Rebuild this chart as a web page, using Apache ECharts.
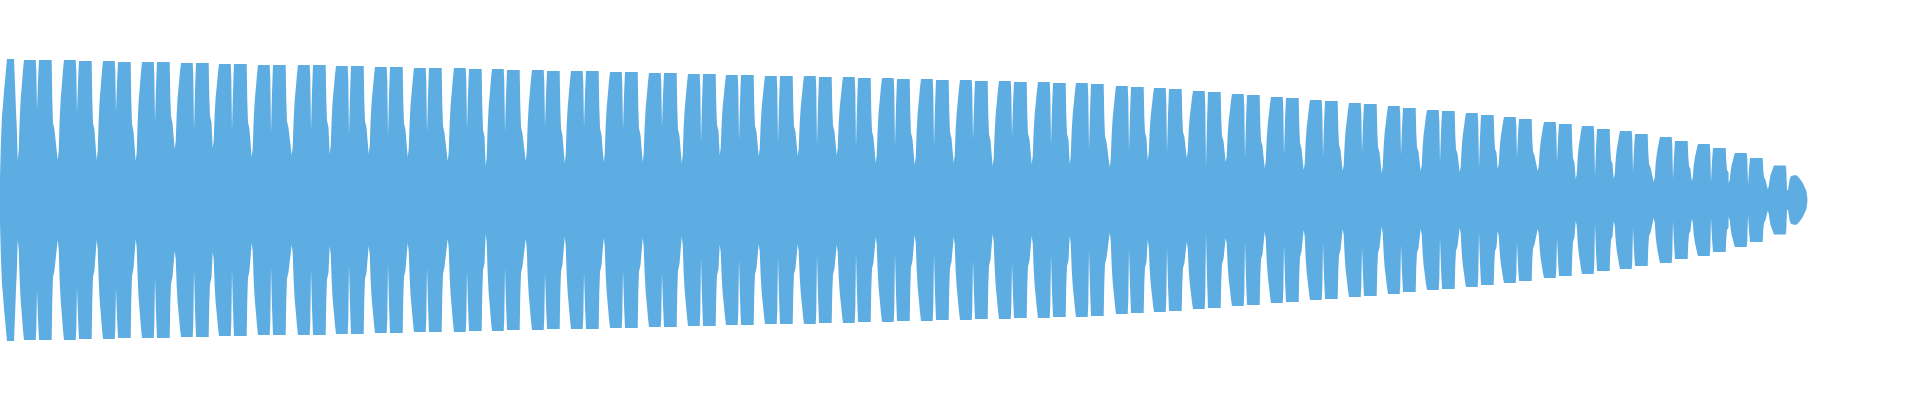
<!DOCTYPE html>
<html><head><meta charset="utf-8">
<script src="https://cdn.jsdelivr.net/npm/echarts@6/dist/echarts.min.js"></script>
<style>html,body{margin:0;padding:0;background:#fff}#chart{width:1920px;height:400px}</style>
</head><body><div id="chart"></div>
<script>
// Waveform envelope (amplitude on a -100..100 scale; x = sample index)
const pairStart = [23,63,102,141,180,218,257,297,335,374,413,453,491,531,570,609,648,687,725,764,803,842,881,920,959,998,1037,1075,1115,1153,1192,1231,1270,1309,1348,1387,1426,1465,1503,1543,1581,1619,1659,1697,1734,1773];
const topA = [100,100,99.3,98.6,97.9,97.1,96.4,96.4,95.7,95,94.3,94.3,93.6,92.9,92.1,91.4,90.7,90,89.3,88.6,88.6,87.9,87.1,86.4,85.7,85,84.3,83.6,81.4,80,77.9,75.7,73.6,71.4,69.3,67.1,64.3,62.1,59.3,55.7,52.9,49.3,45,40,33.6,24.6];
const topB = [100,99.3,98.6,98.6,97.9,97.1,96.4,96.4,95.7,95,94.3,93.6,92.9,92.1,92.1,91.4,90.7,90,89.3,88.6,87.9,87.1,86.4,85.7,85,84.3,83.6,82.9,80.7,79.3,77.1,75,72.9,70.7,68.6,65.7,63.6,60.7,57.9,54.3,50.7,47.1,42.1,37.1,30,17.9];
const notchLevel = [64.3,62.1,62.9,55,49.3,50,47.9,49.3,45.7,45.7,47.9,50.7,48.6,52.1,52.1,50,52.1,41.4,42.1,40.7,39.3,37.9,38.6,38.6,42.9,45,39.3,35.7,34.3,34.3,23.6,30,32.1,30.7,33.6,32.1,27.1,22.9,30,27.1,17.1,20,15,12.9,10.7,6.4];
const gapLevel = [28.6,28.6,27.9,36.4,37.1,30.7,32.1,32.9,32.9,30.7,27.9,24.3,27.9,26.4,27.1,27.1,26.4,32.1,31.4,31.4,32.1,26.4,25,26.4,24.3,25.7,25.7,23.6,28.6,30,27.1,22.9,21.4,20.7,19.3,20.7,20,22.1,20.7,15,15.2,13.1,13.6,12.1,7.9];
const headX = [0,1,2,3,4,5,6,7,14,15,16,17];
const headV = [16,44,60,68,78,85,93,100.7,100.7,83.6,64,48];
const headGap = 28.6;
const tailX = [1788.3,1789.5,1791,1793,1796,1797.5,1799,1800.5,1802,1803.5,1805,1806.5,1807.5,1807.5];
const tailV = [8,14.3,17.1,17.9,17.9,16.9,15.9,14.6,13,11,8.6,6.4,5.4,0];

// lobe outline template (shape only: offsets from a pair's start, fraction between gap and top)
const RISE = [[-5.3,0],[-4.3,0.09],[-3.3,0.41],[-2.3,0.61],[-1,0.77],[0,0.9],[1,1]];
const FALL = [[28.7,1],[29.3,0.6],[30,0.375],[31.5,0.3]];

const pts = [];
headX.forEach((x,i)=>pts.push([x, headV[i]]));
pairStart.forEach((S,k)=>{
  const d = k === 0 ? headGap : gapLevel[k-1];
  const tA = topA[k], tB = topB[k], n = notchLevel[k];
  RISE.forEach(([o,f])=>pts.push([S+o, d + f*(tA-d)]));
  pts.push([S+12.7, tA]);
  pts.push([S+13.3, n + 0.8*(tA-n)]);
  pts.push([S+14, n]);
  pts.push([S+14.7, n]);
  if (k === pairStart.length-1) {
    tailX.forEach((x,i)=>pts.push([x, tailV[i]]));
  } else {
    const dn = gapLevel[k];
    pts.push([S+15, n + 0.6*(tB-n)]);
    pts.push([S+16, tB]);
    FALL.forEach(([o,f])=>pts.push([S+o, dn + f*(tB-dn)]));
  }
});
const upper = pts;
const lower = pts.map(p=>[p[0], -p[1]]);

const color = '#5dade2';
const chart = echarts.init(document.getElementById('chart'));
chart.setOption({
  animation: false,
  backgroundColor: '#ffffff',
  grid: {left: 0, right: 0, top: 60, bottom: 60},
  xAxis: {type: 'value', min: 0, max: 1920, show: false},
  yAxis: {type: 'value', min: -100, max: 100, show: false},
  series: [
    {type: 'line', data: upper, symbol: 'none', clip: false, lineStyle: {width: 0}, areaStyle: {color: color, opacity: 1}},
    {type: 'line', data: lower, symbol: 'none', clip: false, lineStyle: {width: 0}, areaStyle: {color: color, opacity: 1}}
  ]
});
</script></body></html>
